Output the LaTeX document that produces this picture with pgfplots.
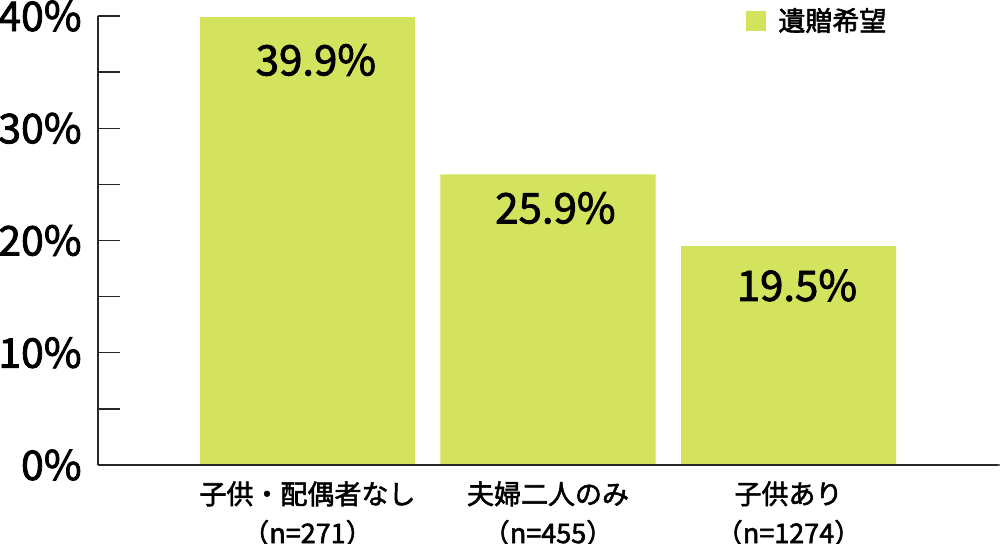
\documentclass[border=0pt]{standalone}
\usepackage{pgfplots}
\pgfplotsset{compat=1.18}
\usepackage{fontspec}
\setmainfont{Noto Sans CJK JP}
\newfontfamily\medfont{Noto Sans CJK JP}[FakeBold=2]
\definecolor{barc}{RGB}{212,227,94}
\definecolor{axc}{RGB}{40,40,40}
\begin{document}
\begin{tikzpicture}
\path[use as bounding box] (-49pt,-39.5pt) rectangle (451pt,232.5pt);
\begin{axis}[
  scale only axis, width=450pt, height=224.5pt,
  at={(0,0)}, anchor=south west,
  xmin=-0.871, xmax=2.871, ymin=0, ymax=40,
  axis lines=left, axis line style={-, axc, line width=0.7pt},
  axis on top,
  clip=false,
  ytick={0,10,20,30,40}, minor ytick={5,15,25,35},
  tick align=inside, major tick length=11pt, minor tick length=11pt,
  tick style={axc, line width=0.7pt},
  yticklabel={\pgfmathprintnumber{\tick}\%},
  yticklabel style={font=\medfont\fontsize{20.5}{24}\selectfont, /pgf/number format/assume math mode=true, inner sep=0pt, anchor=east, xshift=-8pt},
  xtick={0,1,2},
  xticklabels={{子供・配偶者なし\\（n=271）},{夫婦二人のみ\\（n=455）},{子供あり\\（n=1274）}},
  x tick style={draw=none},
  xticklabel style={align=center, font=\medfont\fontsize{13.5}{19.5}\selectfont, inner sep=0pt, anchor=north, yshift=-8pt},
  legend style={draw=none, fill=none, at={(0.72,0.989)}, anchor=west, inner sep=0pt, font=\medfont\fontsize{13.5}{15}\selectfont},
  legend cell align=left,
  legend image code/.code={\path (0pt,0pt) -- (14pt,0pt); \fill[barc] (0pt,-5pt) rectangle (10pt,5pt);},
]
\addplot[ybar, bar width=0.894, fill=barc, draw=none] coordinates {(0,39.9) (1,25.9) (2,19.5)};
\addlegendentry{遺贈希望}
\node[font=\medfont\fontsize{21}{24}\selectfont, inner sep=0pt] at (axis cs:0.035,36.08) {39.9\%};
\node[font=\medfont\fontsize{21}{24}\selectfont, inner sep=0pt] at (axis cs:1.031,22.9) {25.9\%};
\node[font=\medfont\fontsize{21}{24}\selectfont, inner sep=0pt] at (axis cs:2.035,15.99) {19.5\%};
\draw[axc, line width=0.7pt] (rel axis cs:1,0) -- ++(0,3pt);
\end{axis}
\end{tikzpicture}
\end{document}
